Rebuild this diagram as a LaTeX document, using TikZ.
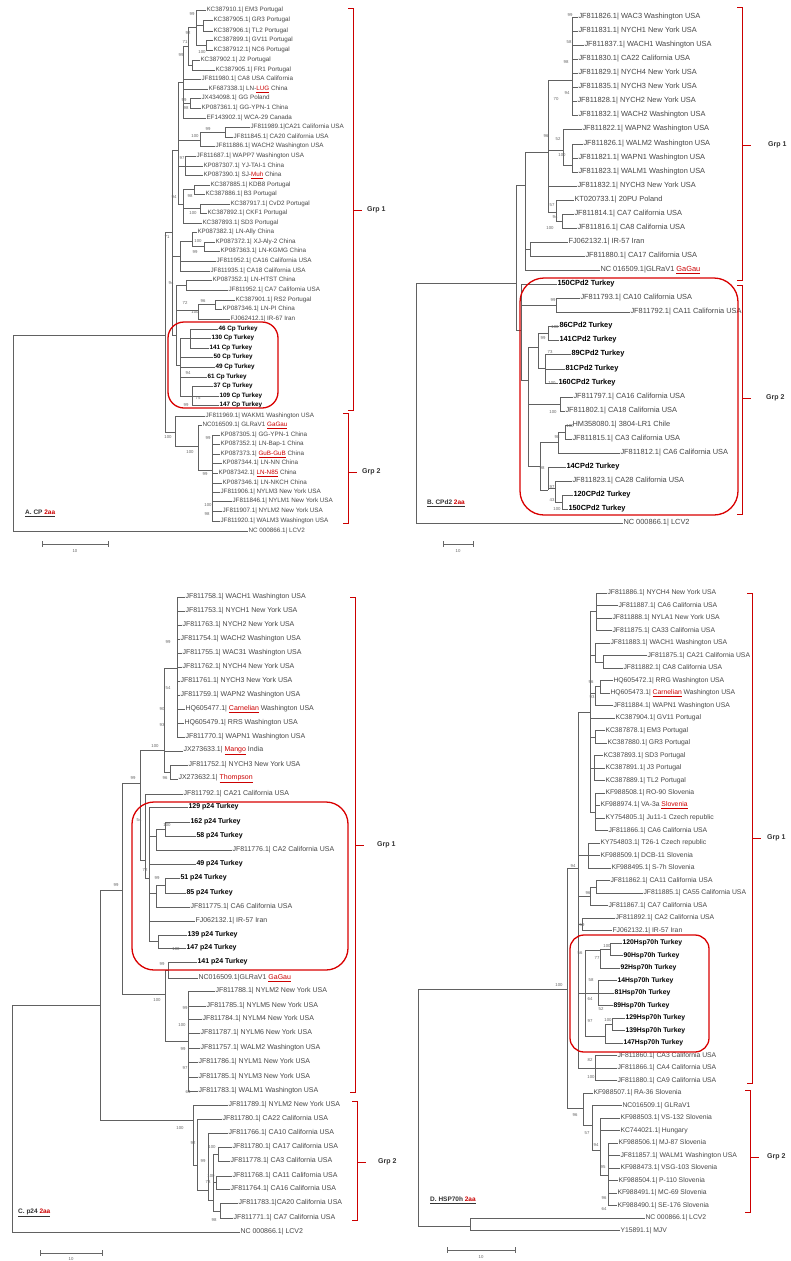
\documentclass[tikz,border=0pt]{standalone}
\usepackage{fontspec}
\setmainfont{Liberation Sans}
\newcounter{nn}
\newcommand\Lf[4]{\stepcounter{nn}\node[lab] (n\thenn) at (#3,#2) {#4};\draw[br] (#1,#2) -- (n\thenn.west);}
\newcommand\Vl[3]{\draw[br] (#1,#2) -- (#1,#3);}
\newcommand\Hl[3]{\draw[br] (#1,#3) -- (#2,#3);}
\newcommand\Bs[3]{\stepcounter{nn}\node[bs] (b\thenn) at (#1,#2) {#3};}
\newcommand\tk[1]{{\bfseries\color{black}#1}}
\newcommand\rr[1]{\textcolor{red!80!black}{\underline{#1}}}
\newcommand\Brk[7]{% x, ytop, ybot, ytick, label, name, label offset
  \draw[brk] (#1-5,#2) -- (#1,#2) -- (#1,#3) -- (#1-5,#3);
  \draw[brk] (#1,#4) -- (#1+9,#4);
  \node[grp] (#6) at (#1+#7,#4) {#5};}
\tikzset{
  br/.style={draw=black!62,line width=0.55pt},
  labfont/.style={font=\fontsize{6.3}{6}\selectfont},
  lab/.style={anchor=west,inner sep=0.3pt,text=black!72,labfont},
  bs/.style={inner sep=0pt,font=\fontsize{4.3}{4}\selectfont,text=black!60},
  brk/.style={draw=red!80!black,line width=0.6pt},
  grp/.style={anchor=west,inner sep=0pt,font=\fontsize{7}{7}\selectfont\bfseries,text=black!80},
  rbox/.style={draw=red!85!black,line width=1.3pt,rounded corners=16pt},
  ttl/.style={anchor=west,inner sep=0pt,font=\fontsize{6.5}{6}\selectfont\bfseries,text=black!80},
  sbar/.style={draw=black!60,line width=0.7pt}
}
\begin{document}
\begin{tikzpicture}[x=1pt,y=-1pt]
\useasboundingbox (0,0) rectangle (791,1261);
\clip (0,0) rectangle (791,1261);
\fill[white] (0,0) rectangle (791,1261);
%%%%%%%%%%%%%%%% PANEL A
\begin{scope}[labfont/.style={font=\fontsize{6.3}{6}\selectfont}]
\Vl{13}{335}{531}\Hl{13}{165}{335}
\Lf{13}{531}{248}{NC 000866.1| LCV2}
\Vl{165}{232}{432}\Hl{165}{172}{232}
\Vl{172}{150}{335}\Hl{172}{178}{150}
\Vl{178}{82}{204}\Hl{178}{183}{82}
\Vl{183}{46}{118}\Hl{183}{188}{46}
\Vl{188}{27}{65}\Hl{188}{196}{27}
\Vl{196}{10}{45}
\Lf{196}{10}{206}{KC387910.1| EM3 Portugal}
\Hl{196}{203}{25}\Vl{203}{20}{31}
\Lf{203}{20}{213}{KC387905.1| GR3 Portugal}
\Lf{203}{31}{213}{KC387906.1| TL2 Portugal}
\Hl{196}{206}{45}\Vl{206}{40}{50}
\Lf{206}{40}{213}{KC387899.1| GV11 Portugal}
\Lf{206}{50}{213}{KC387912.1| NC6 Portugal}
\Hl{188}{192}{65}\Vl{192}{60}{70}
\Lf{192}{60}{200}{KC387902.1| J2 Portugal}
\Lf{192}{70}{215}{KC387905.1| FR1 Portugal}
\Lf{183}{79}{201}{JF811980.1| CA8 USA California}
\Lf{183}{89}{208}{KF687338.1| LN-\rr{LUG} China}
\Hl{183}{190}{103}\Vl{190}{98}{108}
\Lf{190}{98}{201}{JX434098.1| GG Poland}
\Lf{190}{108}{201}{KP087361.1| GG-YPN-1 China}
\Lf{183}{118}{206}{EF143902.1| WCA-29 Canada}
\Hl{178}{200}{140}\Vl{200}{132}{146}\Hl{200}{225}{132}\Vl{225}{127}{137}
\Lf{225}{127}{250}{JF811989.1|CA21 California USA}
\Lf{225}{137}{233}{JF811845.1| CA20 California USA}
\Lf{200}{146}{215}{JF811886.1| WACH2 Washington USA}
\Hl{178}{185}{166}\Vl{185}{156}{175}
\Lf{185}{156}{196}{JF811687.1| WAPP7 Washington USA}
\Lf{185}{166}{203}{KP087307.1| YJ-TAI-1 China}
\Lf{185}{175}{203}{KP087390.1| SJ-\rr{Muh} China}
\Hl{178}{183}{204}\Vl{183}{189}{223}
\Hl{183}{194}{189}\Vl{194}{185}{194}
\Lf{194}{185}{210}{KC387885.1| KDB8 Portugal}
\Lf{194}{194}{205}{KC387886.1| B3 Portugal}
\Hl{183}{200}{208}\Vl{200}{204}{213}
\Lf{200}{204}{230}{KC387917.1| CvD2 Portugal}
\Lf{200}{213}{207}{KC387892.1| CKF1 Portugal}
\Lf{183}{223}{202}{KC387893.1| SD3 Portugal}
\Hl{172}{180}{256}\Vl{180}{241}{271}
\Hl{180}{192}{241}\Vl{192}{232}{246}
\Lf{192}{232}{197}{KP087382.1| LN-Ally China}
\Hl{192}{204}{246}\Vl{204}{242}{251}
\Lf{204}{242}{215}{KP087372.1| XJ-Aly-2 China}
\Lf{204}{251}{220}{KP087363.1| LN-KGMG China}
\Lf{180}{261}{216}{JF811952.1| CA16 California USA}
\Lf{180}{271}{210}{JF811935.1| CA18 California USA}
\Hl{172}{176}{335}\Vl{176}{285}{365}
\Hl{176}{186}{285}\Vl{186}{280}{290}
\Lf{186}{280}{212}{KP087352.1| LN-HTST China}
\Lf{186}{290}{228}{JF811952.1| CA7 California USA}
\Hl{176}{198}{310}\Vl{198}{304}{319}\Hl{198}{215}{304}\Vl{215}{300}{309}
\Lf{215}{300}{235}{KC387901.1| RS2 Portugal}
\Lf{215}{309}{222}{KP087346.1| LN-PI China}
\Lf{198}{319}{230}{FJ062412.1| IR-67 Iran}
\Hl{176}{180}{365}\Vl{180}{338}{396}
\Hl{180}{190}{338}\Vl{190}{329}{348}
\Lf{190}{329}{218}{\tk{46 Cp Turkey}}
\Lf{190}{338}{211}{\tk{130 Cp Turkey}}
\Lf{190}{348}{209}{\tk{141 Cp Turkey}}
\Lf{180}{357}{213}{\tk{50 Cp Turkey}}
\Lf{180}{367}{215}{\tk{49 Cp Turkey}}
\Lf{180}{377}{207}{\tk{61 Cp Turkey}}
\Hl{180}{192}{396}\Vl{192}{386}{405}
\Lf{192}{386}{213}{\tk{37 Cp Turkey}}
\Lf{192}{396}{219}{\tk{109 Cp Turkey}}
\Lf{192}{405}{219}{\tk{147 Cp Turkey}}
\Hl{165}{175}{432}\Vl{175}{416}{446}
\Lf{175}{416}{205}{JF811969.1| WAKM1 Washington USA}
\Hl{175}{198}{446}\Vl{198}{425}{470}
\Lf{198}{425}{202}{NC016509.1| GLRaV1 \rr{GaGau}}
\Hl{198}{212}{470}\Vl{212}{435}{521}
\Lf{212}{435}{220}{KP087305.1| GG-YPN-1 China}
\Lf{212}{444}{220}{KP087352.1| LN-Bap-1 China}
\Lf{212}{454}{220}{KP087373.1| \rr{GuB-GuB} China}
\Lf{212}{463}{222}{KP087344.1| LN-NN China}
\Lf{212}{473}{218}{KP087342.1| \rr{LN-N85} China}
\Lf{212}{483}{222}{KP087346.1| LN-NKCH China}
\Lf{212}{492}{220}{JF811906.1| NYLM3 New York USA}
\Lf{212}{501}{232}{JF811846.1| NYLM1 New York USA}
\Lf{212}{511}{222}{JF811907.1| NYLM2 New York USA}
\Lf{212}{521}{220}{JF811920.1| WALM3 Washington USA}
\Bs{192}{14}{99}\Bs{188}{33}{92}\Bs{202}{52}{100}\Bs{185}{42}{71}\Bs{181}{55}{99}
\Bs{184}{100}{99}\Bs{186}{108}{98}\Bs{208}{129}{99}\Bs{195}{136}{100}\Bs{182}{158}{97}
\Bs{190}{196}{98}\Bs{193}{213}{100}\Bs{174}{197}{94}\Bs{167}{237}{71}\Bs{198}{241}{100}
\Bs{195}{252}{99}\Bs{171}{283}{94}\Bs{185}{303}{72}\Bs{203}{301}{96}\Bs{195}{312}{100}
\Bs{188}{373}{94}\Bs{198}{398}{75}\Bs{186}{405}{99}\Bs{168}{437}{100}\Bs{190}{452}{100}
\Bs{208}{438}{99}\Bs{205}{474}{99}\Bs{208}{505}{100}\Bs{207}{514}{98}
\draw[rbox] (168,322) rectangle (278,408);
\Brk{353}{8}{410}{210}{Grp 1}{ga1}{14}
\Brk{348}{413}{523}{472}{Grp 2}{ga2}{14}
\node[ttl] (ta) at (25,513) {\underline{A. CP \textcolor{red!80!black}{2aa}}};
\draw[sbar] (42,541) -- (42,547) (42,544) -- (108,544) (108,541) -- (108,547);
\node[bs] (sa) at (75,551) {10};
\end{scope}
%%%%%%%%%%%%%%%% PANEL B
\begin{scope}[labfont/.style={font=\fontsize{7.4}{7}\selectfont}]
\Vl{416}{283}{523}\Hl{416}{516}{283}\Vl{516}{185}{330}
\Lf{416}{523}{623}{NC 000866.1| LCV2}
\Hl{516}{525}{185}\Vl{525}{152}{270}\Hl{525}{548}{152}\Vl{548}{80}{212}
\Hl{548}{572}{80}\Vl{572}{17}{115}
\Lf{572}{17}{578}{JF811826.1| WAC3 Washington USA}
\Lf{572}{31}{578}{JF811831.1| NYCH1 New York USA}
\Lf{572}{45}{584}{JF811837.1| WACH1 Washington USA}
\Lf{572}{59}{578}{JF811830.1| CA22 California USA}
\Lf{572}{73}{578}{JF811829.1| NYCH4 New York USA}
\Lf{572}{87}{578}{JF811835.1| NYCH3 New York USA}
\Lf{572}{101}{577}{JF811828.1| NYCH2 New York USA}
\Lf{572}{115}{578}{JF811832.1| WACH2 Washington USA}
\Hl{548}{563}{150}\Vl{563}{129}{165}
\Lf{563}{129}{582}{JF811822.1| WAPN2 Washington USA}
\Hl{563}{572}{165}\Vl{572}{144}{172}
\Lf{572}{144}{583}{JF811826.1| WALM2 Washington USA}
\Lf{572}{158}{578}{JF811821.1| WAPN1 Washington USA}
\Lf{572}{172}{578}{JF811823.1| WALM1 Washington USA}
\Lf{548}{186}{577}{JF811832.1| NYCH3 New York USA}
\Hl{548}{556}{212}\Vl{556}{200}{221}
\Lf{556}{200}{574}{KT020733.1| 20PU Poland}
\Hl{556}{562}{221}\Vl{562}{214}{228}
\Lf{562}{214}{574}{JF811814.1| CA7 California USA}
\Lf{562}{228}{577}{JF811816.1| CA8 California USA}
\Hl{525}{530}{249}\Vl{530}{242}{256}
\Lf{530}{242}{568}{FJ062132.1| IR-57 Iran}
\Lf{530}{256}{585}{JF811880.1| CA17 California USA}
\Lf{525}{270}{600}{NC 016509.1|GLRaV1 \rr{GaGau}}
\Hl{516}{521}{330}\Vl{521}{284}{380}
\Lf{521}{284}{557}{\tk{150CPd2 Turkey}}
\Hl{521}{556}{305}\Vl{556}{298}{312}
\Lf{556}{298}{580}{JF811793.1| CA10 California USA}
\Lf{556}{312}{630}{JF811792.1| CA11 California USA}
\Hl{521}{528}{380}\Vl{528}{347}{466}
\Hl{528}{538}{347}\Vl{538}{333}{368}
\Hl{538}{548}{333}\Vl{548}{326}{340}
\Lf{548}{326}{559}{\tk{86CPd2 Turkey}}
\Lf{548}{340}{559}{\tk{141CPd2 Turkey}}
\Hl{538}{545}{368}\Vl{545}{354}{383}
\Lf{545}{354}{571}{\tk{89CPd2 Turkey}}
\Lf{545}{369}{565}{\tk{81CPd2 Turkey}}
\Lf{545}{383}{558}{\tk{160CPd2 Turkey}}
\Hl{528}{560}{404}\Vl{560}{397}{411}
\Lf{560}{397}{573}{JF811797.1| CA16 California USA}
\Lf{560}{411}{565}{JF811802.1| CA18 California USA}
\Hl{528}{540}{466}\Vl{540}{442}{490}
\Hl{540}{558}{442}\Vl{558}{432}{453}
\Hl{558}{565}{432}\Vl{565}{425}{439}
\Lf{565}{425}{572}{HM358080.1| 3804-LR1 Chile}
\Lf{565}{439}{572}{JF811815.1| CA3 California USA}
\Lf{558}{453}{620}{JF811812.1| CA6 California USA}
\Hl{540}{548}{490}\Vl{548}{467}{490}
\Lf{548}{467}{566}{\tk{14CPd2 Turkey}}
\Hl{548}{555}{488}\Vl{555}{481}{502}
\Lf{555}{481}{572}{JF811823.1| CA28 California USA}
\Hl{555}{562}{502}\Vl{562}{495}{509}
\Lf{562}{495}{573}{\tk{120CPd2 Turkey}}
\Lf{562}{509}{568}{\tk{150CPd2 Turkey}}
\Bs{570}{15}{99}\Bs{569}{42}{58}\Bs{566}{62}{98}\Bs{567}{93}{94}\Bs{556}{99}{70}
\Bs{546}{136}{96}\Bs{558}{139}{52}\Bs{562}{155}{100}\Bs{552}{205}{57}\Bs{555}{217}{94}
\Bs{550}{228}{100}\Bs{553}{300}{99}\Bs{555}{327}{100}\Bs{543}{338}{99}\Bs{550}{352}{73}
\Bs{552}{383}{100}\Bs{553}{412}{100}\Bs{570}{426}{100}\Bs{557}{437}{98}\Bs{542}{468}{98}
\Bs{552}{487}{97}\Bs{552}{500}{43}\Bs{557}{509}{100}
\draw[rbox,rounded corners=24pt] (520,278) rectangle (738,515);
\Brk{742}{7}{280}{145}{Grp 1}{gb1}{26}
\Brk{742}{285}{514}{398}{Grp 2}{gb2}{24}
\node[ttl] (tb) at (427,503) {\underline{B. CPd2 \textcolor{red!80!black}{2aa}}};
\draw[sbar] (443,541) -- (443,547) (443,544) -- (473,544) (473,541) -- (473,547);
\node[bs] (sb) at (458,551) {10};
\end{scope}
%%%%%%%%%%%%%%%% PANEL C
\begin{scope}[labfont/.style={font=\fontsize{7}{7}\selectfont}]
\Vl{12}{1005}{1232}\Hl{12}{100}{1005}
\Lf{12}{1232}{240}{NC 000866.1| LCV2}
\Vl{100}{890}{1120}\Hl{100}{122}{890}\Hl{100}{193}{1120}
\Vl{122}{783}{994}\Hl{122}{140}{783}\Hl{122}{165}{994}
\Vl{140}{750}{860}\Hl{140}{164}{750}
\Vl{164}{668}{772}\Hl{164}{177}{668}\Vl{177}{597}{737}
\Lf{177}{597}{185}{JF811758.1| WACH1 Washington USA}
\Lf{177}{611}{185}{JF811753.1| NYCH1 New York USA}
\Lf{177}{625}{182}{JF811763.1| NYCH2 New York USA}
\Lf{177}{639}{180}{JF811754.1| WACH2 Washington USA}
\Lf{177}{653}{182}{JF811755.1| WAC31 Washington USA}
\Lf{177}{667}{182}{JF811762.1| NYCH4 New York USA}
\Lf{177}{681}{180}{JF811761.1| NYCH3 New York USA}
\Lf{177}{695}{180}{JF811759.1| WAPN2 Washington USA}
\Lf{177}{709}{185}{HQ605477.1| \rr{Carnelian} Washington USA}
\Lf{177}{723}{184}{HQ605479.1| RRS Washington USA}
\Lf{177}{737}{185}{JF811770.1| WAPN1 Washington USA}
\Lf{164}{751}{183}{JX273633.1| \rr{Mango} India}
\Hl{164}{170}{772}\Vl{170}{765}{779}
\Lf{170}{765}{188}{JF811752.1| NYCH3 New York USA}
\Lf{170}{779}{178}{JX273632.1| \rr{Thompson}}
\Hl{140}{145}{860}\Vl{145}{794}{878}
\Lf{145}{794}{183}{JF811792.1| CA21 California USA}
\Hl{145}{149}{878}\Vl{149}{807}{941}
\Lf{149}{807}{188}{\tk{129 p24 Turkey}}
\Hl{149}{156}{836}\Vl{156}{829}{850}\Hl{156}{165}{829}\Vl{165}{822}{836}
\Lf{165}{822}{190}{\tk{162 p24 Turkey}}
\Lf{165}{836}{196}{\tk{58 p24 Turkey}}
\Lf{156}{850}{232}{JF811776.1| CA2 California USA}
\Lf{149}{864}{196}{\tk{49 p24 Turkey}}
\Hl{149}{156}{893}\Vl{156}{885}{907}\Hl{156}{165}{885}\Vl{165}{878}{893}
\Lf{165}{878}{180}{\tk{51 p24 Turkey}}
\Lf{165}{893}{186}{\tk{85 p24 Turkey}}
\Lf{156}{907}{190}{JF811775.1| CA6 California USA}
\Lf{149}{921}{195}{FJ062132.1| IR-57 Iran}
\Hl{149}{158}{941}\Vl{158}{935}{948}
\Lf{158}{935}{187}{\tk{139 p24 Turkey}}
\Lf{158}{948}{186}{\tk{147 p24 Turkey}}
\Vl{165}{970}{1041}\Hl{165}{168}{970}\Vl{168}{962}{978}
\Lf{168}{962}{197}{\tk{141 p24 Turkey}}
\Lf{168}{978}{198}{NC016509.1|GLRaV1 \rr{GaGau}}
\Hl{165}{188}{1041}\Vl{188}{991}{1091}
\Lf{188}{991}{215}{JF811788.1| NYLM2 New York USA}
\Lf{188}{1006}{206}{JF811785.1| NYLM5 New York USA}
\Lf{188}{1019}{202}{JF811784.1| NYLM4 New York USA}
\Lf{188}{1033}{200}{JF811787.1| NYLM6 New York USA}
\Lf{188}{1048}{200}{JF811757.1| WALM2 Washington USA}
\Lf{188}{1062}{198}{JF811786.1| NYLM1 New York USA}
\Lf{188}{1077}{198}{JF811785.1| NYLM3 New York USA}
\Lf{188}{1091}{198}{JF811783.1| WALM1 Washington USA}
\Vl{193}{1105}{1165}
\Lf{193}{1105}{228}{JF811789.1| NYLM2 New York USA}
\Hl{193}{197}{1165}\Vl{197}{1119}{1190}
\Lf{197}{1119}{222}{JF811780.1| CA22 California USA}
\Hl{197}{208}{1190}\Vl{208}{1133}{1200}
\Lf{208}{1133}{228}{JF811766.1| CA10 California USA}
\Hl{208}{213}{1200}\Vl{213}{1154}{1211}
\Hl{213}{218}{1154}\Vl{218}{1147}{1161}
\Lf{218}{1147}{232}{JF811780.1| CA17 California USA}
\Lf{218}{1161}{230}{JF811778.1| CA3 California USA}
\Hl{213}{216}{1182}\Vl{216}{1176}{1189}
\Lf{216}{1176}{232}{JF811768.1| CA11 California USA}
\Lf{216}{1189}{230}{JF811764.1| CA16 California USA}
\Hl{213}{220}{1211}\Vl{220}{1203}{1218}
\Lf{220}{1203}{238}{JF811783.1|CA20 California USA}
\Lf{220}{1218}{233}{JF811771.1| CA7 California USA}
\Bs{133}{778}{99}\Bs{155}{746}{100}\Bs{165}{778}{96}\Bs{162}{709}{90}\Bs{162}{725}{93}
\Bs{168}{688}{54}\Bs{168}{642}{99}\Bs{139}{820}{54}\Bs{167}{825}{100}\Bs{145}{870}{72}
\Bs{116}{885}{99}\Bs{157}{878}{99}\Bs{176}{949}{100}\Bs{162}{964}{99}\Bs{157}{1000}{100}
\Bs{185}{1008}{99}\Bs{182}{1025}{100}\Bs{183}{1049}{99}\Bs{185}{1068}{97}\Bs{188}{1092}{64}
\Bs{180}{1128}{100}\Bs{193}{1143}{92}\Bs{203}{1161}{99}\Bs{212}{1147}{100}\Bs{208}{1182}{73}
\Bs{211}{1176}{100}\Bs{214}{1220}{98}
\draw[rbox,rounded corners=22pt] (132,802) rectangle (348,970);
\Brk{355}{597}{1092}{845}{Grp 1}{gc1}{22}
\Brk{357}{1101}{1220}{1162}{Grp 2}{gc2}{21}
\node[ttl] (tc) at (18,1213) {\underline{C. p24 \textcolor{red!80!black}{2aa}}};
\draw[sbar] (40,1250) -- (40,1256) (40,1253) -- (102,1253) (102,1250) -- (102,1256);
\node[bs] (sc) at (71,1259) {10};
\end{scope}
%%%%%%%%%%%%%%%% PANEL D
\begin{scope}[labfont/.style={font=\fontsize{6.8}{7}\selectfont}]
\Vl{418}{989}{1226}\Hl{418}{567}{989}\Hl{418}{470}{1226}\Vl{470}{1218}{1230.5}
\Lf{470}{1218}{645}{NC 000866.1| LCV2}
\Lf{470}{1230.5}{620}{Y15891.1| MJV}
\Vl{567}{868}{1108}\Hl{567}{578}{868}\Hl{567}{583}{1108}
\Vl{578}{712}{1068}
\Hl{578}{590}{712}\Vl{590}{611}{812}
\Hl{590}{596}{611}\Vl{596}{593}{630.5}
\Lf{596}{593}{607}{JF811886.1| NYCH4 New York USA}
\Lf{596}{605.5}{618}{JF811887.1| CA6 California USA}
\Lf{596}{618}{612}{JF811888.1| NYLA1 New York USA}
\Lf{596}{630.5}{612}{JF811875.1| CA33 California USA}
\Hl{590}{595}{655}\Vl{595}{643}{662}
\Lf{595}{643}{610}{JF811883.1| WACH1 Washington USA}
\Hl{595}{603}{662}\Vl{603}{655.5}{668}
\Lf{603}{655.5}{647}{JF811875.1| CA21 California USA}
\Lf{603}{668}{623}{JF811882.1| CA8 California USA}
\Hl{590}{595}{693}\Vl{595}{686}{705.5}\Hl{595}{600}{686}\Vl{600}{680.5}{693}
\Lf{600}{680.5}{613}{HQ605472.1| RRG Washington USA}
\Lf{600}{693}{610}{HQ605473.1| \rr{Carnelian} Washington USA}
\Lf{595}{705.5}{613}{JF811884.1| WAPN1 Washington USA}
\Lf{590}{718}{615}{KC387904.1| GV11 Portugal}
\Hl{590}{595}{737}\Vl{595}{730.5}{743}
\Lf{595}{730.5}{605}{KC387878.1| EM3 Portugal}
\Lf{595}{743}{607}{KC387880.1| GR3 Portugal}
\Hl{590}{594}{768}\Vl{594}{755.5}{780.5}
\Lf{594}{755.5}{603}{KC387893.1| SD3 Portugal}
\Lf{594}{768}{605}{KC387891.1| J3 Portugal}
\Lf{594}{780.5}{605}{KC387889.1| TL2 Portugal}
\Hl{590}{595}{812}\Vl{595}{793}{830.5}
\Lf{595}{793}{605}{KF988508.1| RO-90 Slovenia}
\Lf{595}{805.5}{600}{KF988974.1| VA-3a \rr{Slovenia}}
\Lf{595}{818}{605}{KY754805.1| Ju11-1 Czech republic}
\Lf{595}{830.5}{608}{JF811866.1| CA6 California USA}
\Hl{578}{588}{855.5}\Vl{588}{843}{868}
\Lf{588}{843}{600}{KY754803.1| T26-1 Czech republic}
\Lf{588}{855.5}{600}{KF988509.1| DCB-11 Slovenia}
\Lf{588}{868}{611}{KF988495.1| S-7h Slovenia}
\Hl{578}{590}{896}\Vl{590}{887}{905.5}\Hl{590}{596}{887}\Vl{596}{880.5}{893}
\Lf{596}{880.5}{610}{JF811862.1| CA11 California USA}
\Lf{596}{893}{643}{JF811885.1| CA55 California USA}
\Lf{590}{905.5}{608}{JF811867.1| CA7 California USA}
\Hl{578}{582}{924}\Vl{582}{918}{930.5}
\Lf{582}{918}{615}{JF811892.1| CA2 California USA}
\Lf{582}{930.5}{612}{FJ062132.1| IR-57 Iran}
\Hl{578}{585}{993}\Vl{585}{950}{1036}
\Hl{585}{600}{950}\Vl{600}{949}{968}\Hl{600}{610}{949}\Vl{610}{943}{955.5}
\Lf{610}{943}{622}{\tk{120Hsp70h Turkey}}
\Lf{610}{955.5}{623}{\tk{90Hsp70h Turkey}}
\Lf{600}{968}{620}{\tk{92Hsp70h Turkey}}
\Hl{585}{598}{993}\Vl{598}{980.5}{1005.5}
\Lf{598}{980.5}{617}{\tk{14Hsp70h Turkey}}
\Lf{598}{993}{614}{\tk{81Hsp70h Turkey}}
\Lf{598}{1005.5}{613}{\tk{89Hsp70h Turkey}}
\Hl{585}{605}{1036}\Vl{605}{1024}{1043}\Hl{605}{612}{1024}\Vl{612}{1018}{1030.5}
\Lf{612}{1018}{625}{\tk{129Hsp70h Turkey}}
\Lf{612}{1030.5}{625}{\tk{139Hsp70h Turkey}}
\Lf{605}{1043}{623}{\tk{147Hsp70h Turkey}}
\Hl{578}{595}{1068}\Vl{595}{1055.5}{1080.5}
\Lf{595}{1055.5}{617}{JF811860.1| CA3 California USA}
\Lf{595}{1068}{617}{JF811866.1| CA4 California USA}
\Lf{595}{1080.5}{617}{JF811880.1| CA9 California USA}
\Vl{583}{1093}{1125}
\Lf{583}{1093}{593}{KF988507.1| RA-36 Slovenia}
\Hl{583}{592}{1125}\Vl{592}{1105.5}{1150}
\Lf{592}{1105.5}{622}{NC016509.1| GLRaV1}
\Hl{592}{600}{1150}\Vl{600}{1118}{1175}
\Lf{600}{1118}{620}{KF988503.1| VS-132 Slovenia}
\Lf{600}{1130.5}{620}{KC744021.1| Hungary}
\Hl{600}{608}{1175}\Vl{608}{1143}{1205.5}
\Lf{608}{1143}{618}{KF988506.1| MJ-87 Slovenia}
\Lf{608}{1155.5}{620}{JF811857.1| WALM1 Washington USA}
\Lf{608}{1168}{620}{KF988473.1| VSG-103 Slovenia}
\Lf{608}{1180.5}{618}{KF988504.1| P-110 Slovenia}
\Lf{608}{1193}{617}{KF988491.1| MC-69 Slovenia}
\Lf{608}{1205.5}{617}{KF988490.1| SE-176 Slovenia}
\Bs{591}{682}{96}\Bs{592}{697}{93}\Bs{573}{866}{94}\Bs{588}{893}{96}\Bs{582}{925}{59}
\Bs{580}{953}{56}\Bs{597}{958}{77}\Bs{591}{980}{58}\Bs{607}{946}{100}\Bs{590}{999}{64}
\Bs{601}{1009}{52}\Bs{559}{985}{100}\Bs{590}{1021}{97}\Bs{608}{1020}{100}\Bs{590}{1060}{82}
\Bs{591}{1077}{100}\Bs{575}{1115}{96}\Bs{587}{1133}{57}\Bs{596}{1145}{94}\Bs{603}{1167}{95}
\Bs{604}{1198}{96}\Bs{604}{1209}{64}
\draw[rbox,rounded corners=14pt] (570,935) rectangle (709,1052);
\Brk{752}{593}{1083}{838}{Grp 1}{gd1}{15}
\Brk{750}{1090}{1212}{1157}{Grp 2}{gd2}{17}
\node[ttl] (td) at (430,1200) {\underline{D. HSP70h \textcolor{red!80!black}{2aa}}};
\draw[sbar] (447,1247) -- (447,1253) (447,1250) -- (515,1250) (515,1247) -- (515,1253);
\node[bs] (sd) at (481,1257) {10};
\end{scope}
\end{tikzpicture}
\end{document}
